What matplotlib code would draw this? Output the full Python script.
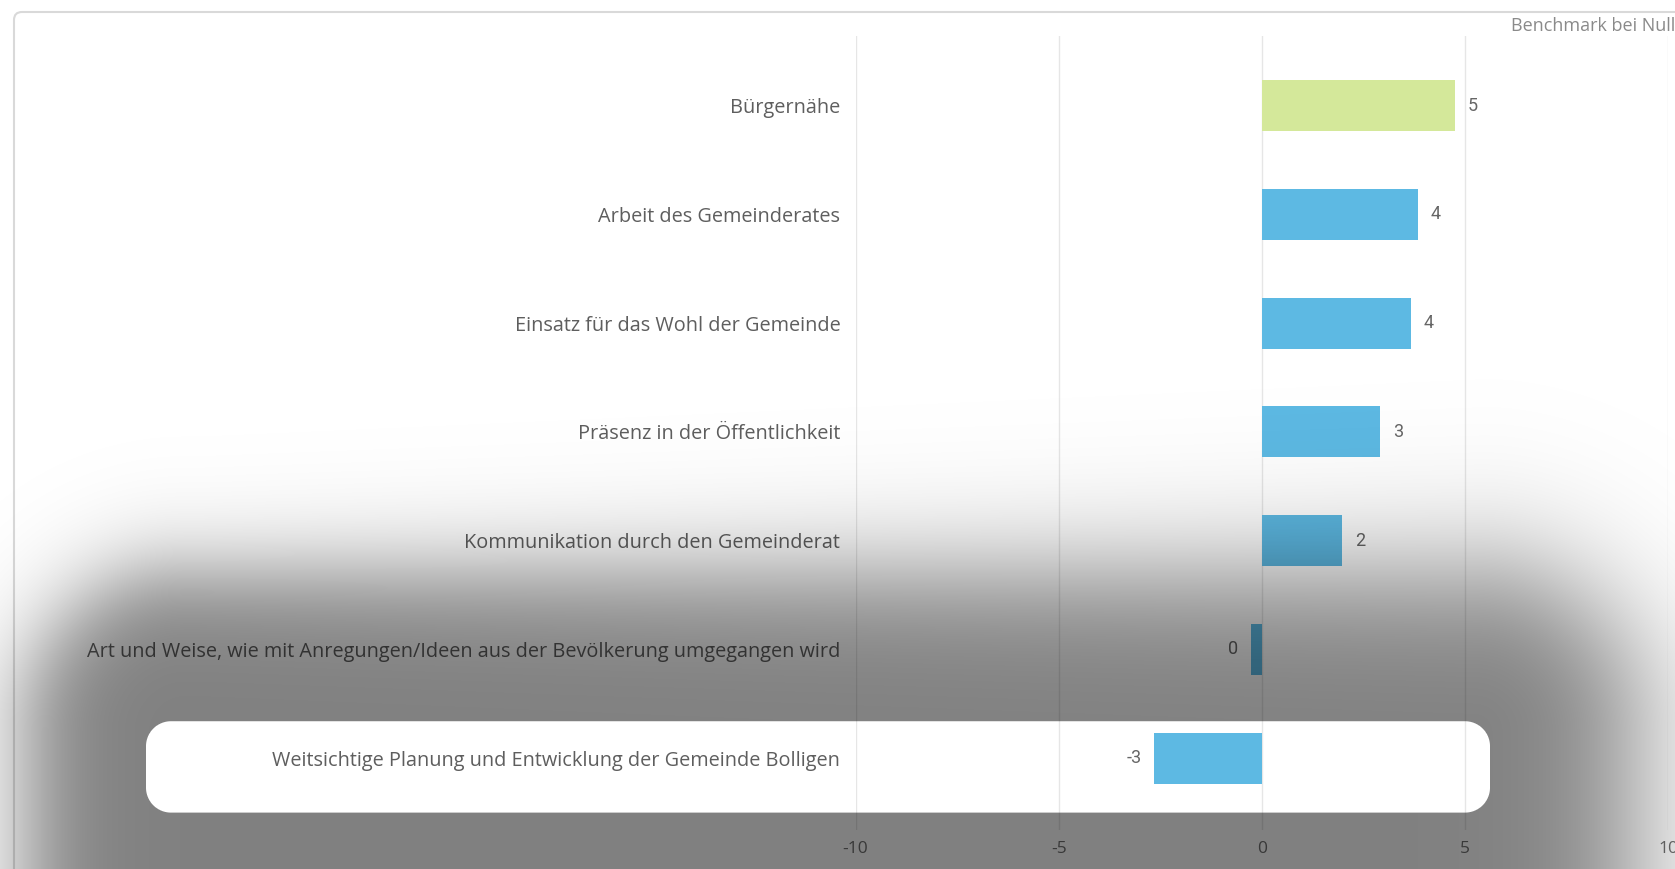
import numpy as np
import matplotlib
matplotlib.use('Agg')
import matplotlib.pyplot as plt
from matplotlib.patches import FancyBboxPatch
from matplotlib.transforms import IdentityTransform

kategorien = ['Bürgernähe',
              'Arbeit des Gemeinderates',
              'Einsatz für das Wohl der Gemeinde',
              'Präsenz in der Öffentlichkeit',
              'Kommunikation durch den Gemeinderat',
              'Art und Weise, wie mit Anregungen/Ideen aus der Bevölkerung umgegangen wird',
              'Weitsichtige Planung und Entwicklung der Gemeinde Bolligen']
werte = [4.76, 3.84, 3.68, 2.92, 1.98, -0.27, -2.66]
farben = ['#d4e89a', '#5db9e3', '#5db9e3', '#5db9e3', '#5db9e3', '#5db9e3', '#5db9e3']
x_ticks = [-10, -5, 0, 5, 10]
hinweis = 'Benchmark bei Null'
markiert = 6  # Zeile mit Spotlight

plt.rcParams['axes.unicode_minus'] = False

W, H = 1675, 869
fig = plt.figure(figsize=(W / 100, H / 100), dpi=100)
fig.patch.set_facecolor('white')

schrift = 'Open Sans'
grau_text = '#5e5e5e'

# aeusserer Rahmen
rahmen = FancyBboxPatch((14, -60), W + 100, H - 12 + 60,
                        boxstyle='round,pad=0,rounding_size=8',
                        transform=IdentityTransform(), facecolor='white',
                        edgecolor='#d9d9d9', linewidth=1.5, zorder=0)
fig.add_artist(rahmen)

ax = fig.add_axes([855.6 / W, 39 / H, (1668 - 855.6) / W, 794 / H])
ax.set_facecolor('none')
y = np.arange(len(kategorien))
ax.barh(y, werte, height=0.47, color=farben, zorder=2)

for yi, v in zip(y, werte):
    txt = f'{int(round(v))}'
    if v >= 0:
        ax.annotate(txt, (v, yi), xytext=(9, 0), textcoords='offset points',
                    ha='left', va='center', fontsize=13, color='#666666',
                    family='Roboto')
    else:
        ax.annotate(txt, (v, yi), xytext=(-9, 0), textcoords='offset points',
                    ha='right', va='center', fontsize=13, color='#666666',
                    family='Roboto')

ax.set_xlim(-10, 10)
ax.set_ylim(len(kategorien) - 1 + 0.66, -0.64)
ax.set_xticks(x_ticks)
ax.set_yticks(y)
ax.set_yticklabels(kategorien, family=schrift, fontsize=14.3, color=grau_text)
for lab in ax.get_xticklabels():
    lab.set_family(schrift)
ax.tick_params(axis='x', length=0, pad=8, labelsize=12.5, labelcolor='#707070')
ax.tick_params(axis='y', length=0, pad=11)
ax.grid(axis='x', color='#e6e6e6', linewidth=1, zorder=0)
ax.set_axisbelow(True)
for s in ax.spines.values():
    s.set_visible(False)

fig.text(1511 / W, 1 - 26 / H, hinweis, ha='left', va='center',
         fontsize=13, color='#8a8a8a', family=schrift)


# Spotlight-Overlay: abgedunkelter Bereich mit weichem Rand
def abstand_rundrechteck(x, y, x0, y0, x1, y1, r):
    cx, cy = (x0 + x1) / 2, (y0 + y1) / 2
    qx = np.abs(x - cx) - ((x1 - x0) / 2 - r)
    qy = np.abs(y - cy) - ((y1 - y0) / 2 - r)
    aussen = np.hypot(np.maximum(qx, 0), np.maximum(qy, 0))
    innen = np.minimum(np.maximum(qx, qy), 0)
    return aussen + innen - r


yy, xx = np.mgrid[0:H, 0:W] + 0.5
d = abstand_rundrechteck(xx, yy, 25, 572, 1635, 1300, 160)
breite = 28 + 12 * np.clip((xx - 200) / 1300, 0, 1)
alpha = 0.5 / (1 + np.exp(np.clip(d / breite, -50, 50)))

# weisses Fenster um die markierte Zeile
_, oben = ax.transData.transform((0, markiert - 0.34))
_, unten = ax.transData.transform((0, markiert + 0.5))
oben, unten = H - oben, H - unten
loch = abstand_rundrechteck(xx, yy, 146, oben, 1490, unten, 25)
alpha = alpha * (1 - np.clip(0.5 - loch, 0, 1))

rgba = np.zeros((H, W, 4))
rgba[..., 3] = alpha
fig.figimage(rgba, 0, 0, origin='upper', zorder=5)

fig.savefig('out.png', dpi=100)
